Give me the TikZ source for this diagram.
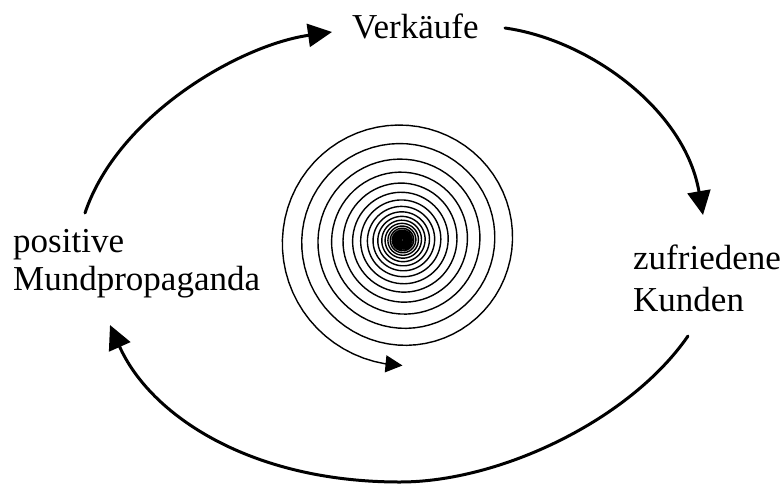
\documentclass[tikz,border=0pt]{standalone}
\usepackage{fontspec}
\setmainfont{Liberation Serif}
\usetikzlibrary{arrows.meta}
\begin{document}
\begin{tikzpicture}[x=1pt,y=-1pt,
  lbl/.style={anchor=base west,inner sep=0pt,font=\fontsize{35pt}{42pt}\selectfont},
  bigarrow/.style={line width=3pt,line cap=round,-{Triangle[length=24pt,width=23pt]}},
  spiralline/.style={line width=1.4pt},
  spiralarrow/.style={line width=1.4pt,-{Triangle[length=17pt,width=17pt]}}]
\useasboundingbox (0,0) rectangle (782,483);
% labels
\node[lbl] (verk) at (352,38) {Verkäufe};
\node[lbl] (pos) at (13,252) {positive};
\node[lbl] (mund) at (13,290) {Mundpropaganda};
\node[lbl] (zuf) at (633,269) {zufriedene};
\node[lbl] (kund) at (633,311) {Kunden};
% arrow end points
\coordinate (a1s) at (85,213);
\coordinate (a1e) at (332,32);
\coordinate (a2s) at (505,28);
\coordinate (a2e) at (703,215);
\coordinate (a3s) at (688,336);
\coordinate (a3m) at (400,482);
\coordinate (a3e) at (110,325);
% cycle arrows
\draw[bigarrow] (a1s) .. controls (118,115) and (240,45) .. (a1e);
\draw[bigarrow] (a2s) .. controls (590,40) and (685,110) .. (a2e);
\draw[bigarrow] (a3s) .. controls (630,420) and (500,482) .. (a3m)
  .. controls (250,482) and (150,415) .. (a3e);
% spiral
\draw[spiralline] plot[domain=-9500:262, samples=1900]
  ({402.5+110*exp(0.000483*\x)*cos(\x)}, {240-110*exp(0.000483*\x)*sin(\x)});
\coordinate (sa) at ({402.5+110*exp(0.000483*262)*cos(262)}, {240-110*exp(0.000483*262)*sin(262)});
\coordinate (se) at ({402.5+110*exp(0.000483*270)*cos(270)}, {240-110*exp(0.000483*270)*sin(270)});
\draw[spiralarrow] (sa) -- (se);
\end{tikzpicture}
\end{document}
